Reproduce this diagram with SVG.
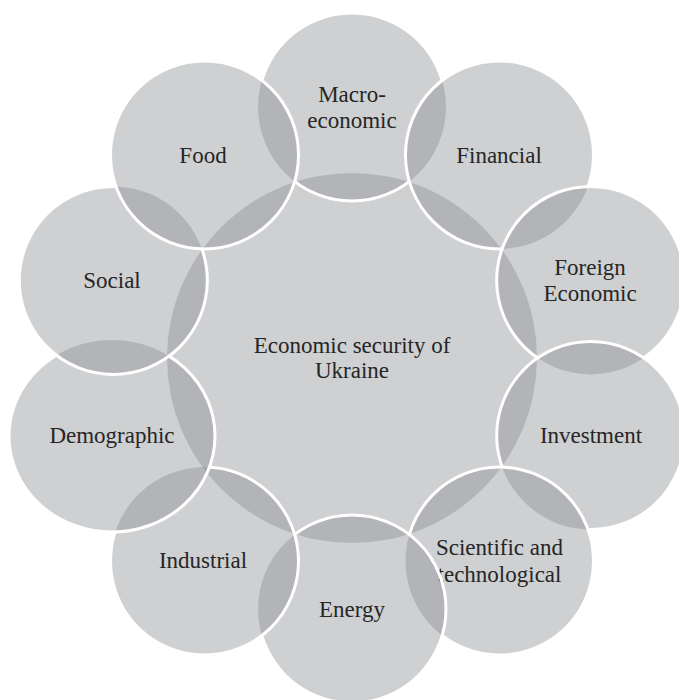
<svg xmlns="http://www.w3.org/2000/svg" width="679" height="700" viewBox="0 0 679 700">
<style>
.f{fill:#8a8c91;fill-opacity:0.41}
.s{fill:none;stroke:#ffffff;stroke-width:3}
.t{font-family:"Liberation Serif","Times New Roman",serif;font-size:23px;fill:#262626;text-anchor:middle}
</style>
<defs>
<mask id="m1" maskUnits="userSpaceOnUse" x="0" y="0" width="679" height="700"><rect width="679" height="700" fill="#fff"/><g fill="#000"><circle cx="499.5" cy="154.9" r="94"/><circle cx="590.7" cy="280.4" r="94"/><circle cx="590.7" cy="435.6" r="94"/><circle cx="499.5" cy="561.1" r="94"/><circle cx="352" cy="609" r="94"/><circle cx="204.5" cy="561.1" r="94"/><ellipse cx="112" cy="436" rx="103" ry="96"/><circle cx="113.3" cy="280.4" r="94"/><circle cx="204.5" cy="154.9" r="94"/></g></mask>
<mask id="m2" maskUnits="userSpaceOnUse" x="0" y="0" width="679" height="700"><rect width="679" height="700" fill="#fff"/><g fill="#000"><circle cx="590.7" cy="280.4" r="94"/><circle cx="590.7" cy="435.6" r="94"/><circle cx="499.5" cy="561.1" r="94"/><circle cx="352" cy="609" r="94"/><circle cx="204.5" cy="561.1" r="94"/><ellipse cx="112" cy="436" rx="103" ry="96"/><circle cx="113.3" cy="280.4" r="94"/><circle cx="204.5" cy="154.9" r="94"/></g></mask>
<mask id="m3" maskUnits="userSpaceOnUse" x="0" y="0" width="679" height="700"><rect width="679" height="700" fill="#fff"/><g fill="#000"><circle cx="590.7" cy="435.6" r="94"/><circle cx="499.5" cy="561.1" r="94"/><circle cx="352" cy="609" r="94"/><circle cx="204.5" cy="561.1" r="94"/><ellipse cx="112" cy="436" rx="103" ry="96"/><circle cx="113.3" cy="280.4" r="94"/><circle cx="204.5" cy="154.9" r="94"/></g></mask>
<mask id="m4" maskUnits="userSpaceOnUse" x="0" y="0" width="679" height="700"><rect width="679" height="700" fill="#fff"/><g fill="#000"><circle cx="499.5" cy="561.1" r="94"/><circle cx="352" cy="609" r="94"/><circle cx="204.5" cy="561.1" r="94"/><ellipse cx="112" cy="436" rx="103" ry="96"/><circle cx="113.3" cy="280.4" r="94"/><circle cx="204.5" cy="154.9" r="94"/></g></mask>
<mask id="m5" maskUnits="userSpaceOnUse" x="0" y="0" width="679" height="700"><rect width="679" height="700" fill="#fff"/><g fill="#000"><circle cx="352" cy="609" r="94"/><circle cx="204.5" cy="561.1" r="94"/><ellipse cx="112" cy="436" rx="103" ry="96"/><circle cx="113.3" cy="280.4" r="94"/><circle cx="204.5" cy="154.9" r="94"/></g></mask>
<mask id="m6" maskUnits="userSpaceOnUse" x="0" y="0" width="679" height="700"><rect width="679" height="700" fill="#fff"/><g fill="#000"><circle cx="204.5" cy="561.1" r="94"/><ellipse cx="112" cy="436" rx="103" ry="96"/><circle cx="113.3" cy="280.4" r="94"/><circle cx="204.5" cy="154.9" r="94"/></g></mask>
<mask id="m7" maskUnits="userSpaceOnUse" x="0" y="0" width="679" height="700"><rect width="679" height="700" fill="#fff"/><g fill="#000"><ellipse cx="112" cy="436" rx="103" ry="96"/><circle cx="113.3" cy="280.4" r="94"/><circle cx="204.5" cy="154.9" r="94"/></g></mask>
<mask id="m8" maskUnits="userSpaceOnUse" x="0" y="0" width="679" height="700"><rect width="679" height="700" fill="#fff"/><g fill="#000"><circle cx="113.3" cy="280.4" r="94"/><circle cx="204.5" cy="154.9" r="94"/></g></mask>
<mask id="m9" maskUnits="userSpaceOnUse" x="0" y="0" width="679" height="700"><rect width="679" height="700" fill="#fff"/><g fill="#000"><circle cx="204.5" cy="154.9" r="94"/></g></mask>
</defs>
<g id="connectors"></g>
<g id="center">
<circle class="f" cx="352" cy="358" r="185"/>
<text class="t" x="352" y="353">Economic security of</text>
<text class="t" x="352" y="378">Ukraine</text>
</g>
<g id="macroeconomic">
<circle class="f" cx="352" cy="107" r="94"/>
<text class="t" x="352" y="102">Macro-</text>
<text class="t" x="352" y="128">economic</text>
<circle class="s" cx="352" cy="107" r="94" mask="url(#m1)"/>
</g>
<g id="financial">
<circle class="f" cx="499.5" cy="154.9" r="94"/>
<text class="t" x="499" y="163">Financial</text>
<circle class="s" cx="499.5" cy="154.9" r="94" mask="url(#m2)"/>
</g>
<g id="foreign-economic">
<circle class="f" cx="590.7" cy="280.4" r="94"/>
<text class="t" x="590" y="275">Foreign</text>
<text class="t" x="590" y="301">Economic</text>
<circle class="s" cx="590.7" cy="280.4" r="94" mask="url(#m3)"/>
</g>
<g id="investment">
<circle class="f" cx="590.7" cy="435.6" r="94"/>
<text class="t" x="591" y="443">Investment</text>
<circle class="s" cx="590.7" cy="435.6" r="94" mask="url(#m4)"/>
</g>
<g id="scientific">
<circle class="f" cx="499.5" cy="561.1" r="94"/>
<text class="t" x="499.5" y="555">Scientific and</text>
<text class="t" x="499.5" y="582">technological</text>
<circle class="s" cx="499.5" cy="561.1" r="94" mask="url(#m5)"/>
</g>
<g id="energy">
<circle class="f" cx="352" cy="609" r="94"/>
<text class="t" x="352" y="617">Energy</text>
<circle class="s" cx="352" cy="609" r="94" mask="url(#m6)"/>
</g>
<g id="industrial">
<circle class="f" cx="204.5" cy="561.1" r="94"/>
<text class="t" x="203" y="568">Industrial</text>
<circle class="s" cx="204.5" cy="561.1" r="94" mask="url(#m7)"/>
</g>
<g id="demographic">
<ellipse class="f" cx="112" cy="436" rx="103" ry="96"/>
<text class="t" x="112" y="443">Demographic</text>
<ellipse class="s" cx="112" cy="436" rx="103" ry="96" mask="url(#m8)"/>
</g>
<g id="social">
<circle class="f" cx="113.3" cy="280.4" r="94"/>
<text class="t" x="112" y="288">Social</text>
<circle class="s" cx="113.3" cy="280.4" r="94" mask="url(#m9)"/>
</g>
<g id="food">
<circle class="f" cx="204.5" cy="154.9" r="94"/>
<text class="t" x="203" y="163">Food</text>
<circle class="s" cx="204.5" cy="154.9" r="94"/>
</g>
</svg>
